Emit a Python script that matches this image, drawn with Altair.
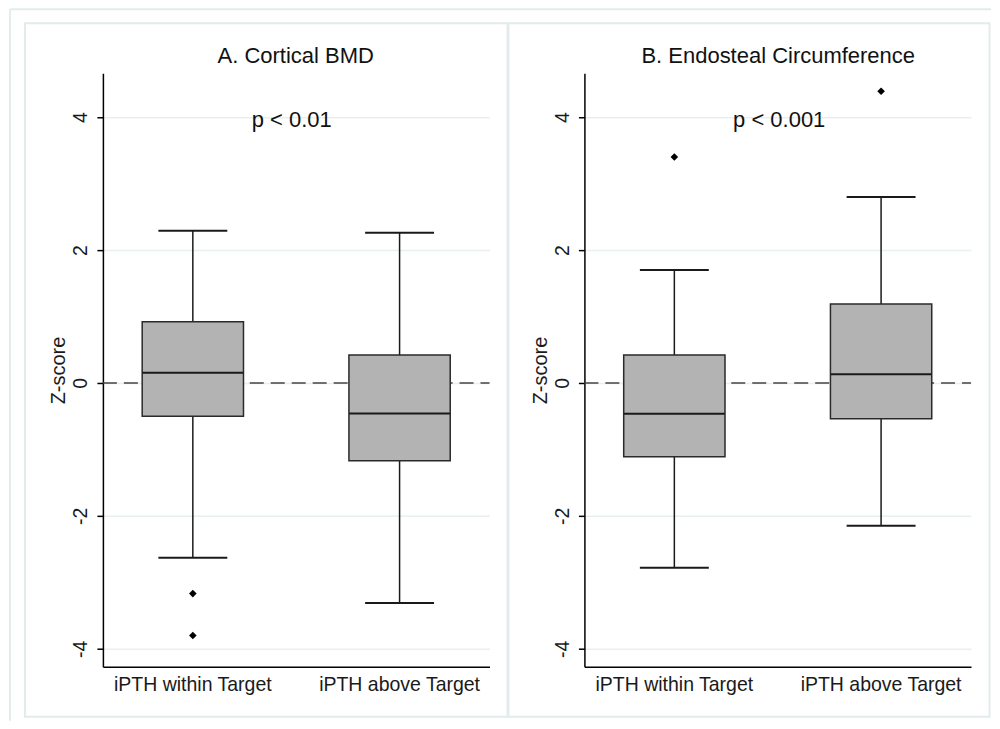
import altair as alt
import pandas as pd

categories = ["iPTH within Target", "iPTH above Target"]

# Panel A: Cortical BMD
a_lower = [-2.63, -3.31]
a_q1 = [-0.50, -1.17]
a_median = [0.155, -0.46]
a_q3 = [0.92, 0.42]
a_upper = [2.29, 2.26]
a_out_cat = ["iPTH within Target", "iPTH within Target"]
a_out_val = [-3.17, -3.80]

# Panel B: Endosteal Circumference
b_lower = [-2.78, -2.15]
b_q1 = [-1.11, -0.54]
b_median = [-0.465, 0.13]
b_q3 = [0.42, 1.19]
b_upper = [1.70, 2.80]
b_out_cat = ["iPTH within Target", "iPTH above Target"]
b_out_val = [3.40, 4.39]

titles = ["A. Cortical BMD", "B. Endosteal Circumference"]
pvals = ["p < 0.01", "p < 0.001"]
y_ticks = [-4, -2, 0, 2, 4]
y_domain = [-4.27, 4.66]
y_title = "Z-score"

W, H = 387, 594
FONT = "Liberation Sans, Arial, sans-serif"
FRAME = "#e3ecec"
GRID = "#e8efef"
INK = "#1a1a1a"

one = pd.DataFrame({"k": [0]})


def xenc():
    return alt.X(
        "cat:N",
        sort=categories,
        title=None,
        scale=alt.Scale(paddingInner=0.51, paddingOuter=0.19),
        axis=alt.Axis(
            labelAngle=0, tickSize=0, labelFontSize=19.5, labelColor=INK,
            labelFont=FONT, labelPadding=9, domainColor="#000",
            domainWidth=1.5, grid=False,
        ),
    )


def yenc(field):
    return alt.Y(
        field,
        title=y_title,
        scale=alt.Scale(domain=y_domain, nice=False, zero=False),
        axis=alt.Axis(
            values=y_ticks, labelExpr="'' + datum.value", labelAngle=270,
            labelAlign="center",
            labelBaseline="alphabetic", labelFontSize=19.5, labelColor=INK,
            labelFont=FONT, labelPadding=10, tickSize=6, tickColor="#000",
            tickWidth=1.5, domainColor="#000", domainWidth=1.5,
            grid=True, gridColor=GRID, gridWidth=1.5,
            titleAngle=270, titleAlign="center", titleBaseline="alphabetic",
            titleX=-38, titleY=H / 2, titleFontSize=20, titleFont=FONT,
            titleFontWeight="normal", titleColor=INK,
        ),
    )


def panel(lower, q1, med, q3, upper, out_cat, out_val, title, ptext,
          title_x, p_x, frame_x, frame_x2, left=False):
    stats = pd.DataFrame({"cat": categories, "lower": lower, "q1": q1,
                          "median": med, "q3": q3, "upper": upper})
    outl = pd.DataFrame({"cat": out_cat, "val": out_val})
    base = alt.Chart(stats)

    layers = []
    if left:
        anchor = alt.Chart(one).mark_rect(opacity=0).encode(
            x=alt.value(-95), x2=alt.value(889),
            y=alt.value(-65), y2=alt.value(648))
        outer_v = alt.Chart(one).mark_rule(color=FRAME, strokeWidth=2).encode(
            x=alt.value(-93), y=alt.value(-64), y2=alt.value(648))
        outer_h = alt.Chart(one).mark_rule(color=FRAME, strokeWidth=2).encode(
            x=alt.value(-93), x2=alt.value(889), y=alt.value(-64))
        layers += [anchor, outer_v, outer_h]

    frame = alt.Chart(one).mark_rect(
        fillOpacity=0, stroke=FRAME, strokeWidth=2).encode(
        x=alt.value(frame_x), x2=alt.value(frame_x2),
        y=alt.value(-50), y2=alt.value(644))

    zero = alt.Chart(one).mark_rule(
        color="#444", strokeWidth=1.5, strokeDash=[14, 7]).encode(
        x=alt.value(0), x2=alt.value(W), y=alt.datum(0))

    whisk_lo = base.mark_rule(color=INK, strokeWidth=1.5).encode(
        x=xenc(), y=yenc("lower:Q"), y2="q1:Q")
    whisk_hi = base.mark_rule(color=INK, strokeWidth=1.5).encode(
        x=xenc(), y=yenc("q3:Q"), y2="upper:Q")
    box = base.mark_bar(fill="#b3b3b3", stroke="#2a2a2a",
                        strokeWidth=1.5).encode(
        x=xenc(), y=yenc("q1:Q"), y2="q3:Q")
    median = base.mark_tick(color=INK, size=101, thickness=2,
                            opacity=1).encode(x=xenc(), y=yenc("median:Q"))
    cap_lo = base.mark_tick(color=INK, size=69, thickness=2,
                            opacity=1).encode(x=xenc(), y=yenc("lower:Q"))
    cap_hi = base.mark_tick(color=INK, size=69, thickness=2,
                            opacity=1).encode(x=xenc(), y=yenc("upper:Q"))
    pts = alt.Chart(outl).mark_point(
        shape="diamond", filled=True, color="#000", size=58,
        opacity=1).encode(x=xenc(), y=yenc("val:Q"))

    ttl = alt.Chart(one).mark_text(
        text=title, fontSize=22, font=FONT, color="#111",
        align="center", baseline="alphabetic").encode(
        x=alt.value(title_x), y=alt.value(-10))
    ptx = alt.Chart(one).mark_text(
        text=ptext, fontSize=22, font=FONT, color="#111",
        align="center", baseline="alphabetic").encode(
        x=alt.value(p_x), y=alt.datum(3.85))

    layers += [frame, zero, whisk_lo, whisk_hi, box, median, cap_lo,
               cap_hi, pts, ttl, ptx]
    return alt.layer(*layers).properties(width=W, height=H)


left_panel = panel(a_lower, a_q1, a_median, a_q3, a_upper, a_out_cat,
                   a_out_val, titles[0], pvals[0], 193, 189, -78, 405,
                   left=True)
right_panel = panel(b_lower, b_q1, b_median, b_q3, b_upper, b_out_cat,
                    b_out_val, titles[1], pvals[1], 194, 195, -76, 405.5)

chart = alt.hconcat(left_panel, right_panel, spacing=95,
                    bounds="flush").properties(
    padding=0, background="white"
).configure_view(stroke=None).configure_axis(labelFont=FONT,
                                              titleFont=FONT)

chart.save("out.html", embed_options={"renderer": "svg", "actions": False})
